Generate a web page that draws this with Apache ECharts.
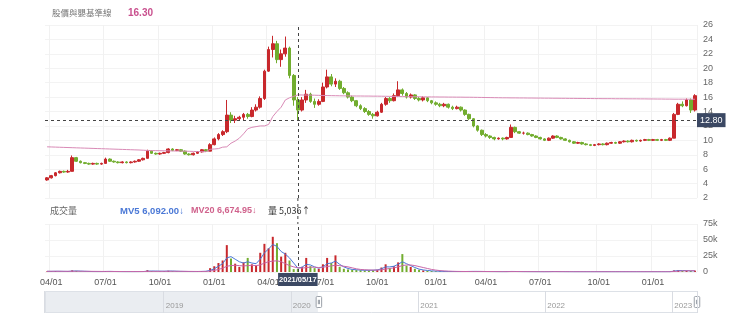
<!DOCTYPE html>
<html>
<head>
<meta charset="utf-8">
<script src="https://cdn.jsdelivr.net/npm/echarts@6/dist/echarts.min.js"></script>
<style>
  html, body { margin: 0; padding: 0; background: #fff; }
  #chart { width: 740px; height: 329px; }
</style>
</head>
<body>
<div id="chart"></div>
<script>
// Weekly sessions (Monday of each week)
const weeks = [
  '2020/03/23','2020/03/30','2020/04/06','2020/04/13','2020/04/20','2020/04/27','2020/05/04','2020/05/11','2020/05/18','2020/05/25',
  '2020/06/01','2020/06/08','2020/06/15','2020/06/22','2020/06/29','2020/07/06','2020/07/13','2020/07/20','2020/07/27','2020/08/03',
  '2020/08/10','2020/08/17','2020/08/24','2020/08/31','2020/09/07','2020/09/14','2020/09/21','2020/09/28','2020/10/05','2020/10/12',
  '2020/10/19','2020/10/26','2020/11/02','2020/11/09','2020/11/16','2020/11/23','2020/11/30','2020/12/07','2020/12/14','2020/12/21',
  '2020/12/28','2021/01/04','2021/01/11','2021/01/18','2021/01/25','2021/02/01','2021/02/08','2021/02/15','2021/02/22','2021/03/01',
  '2021/03/08','2021/03/15','2021/03/22','2021/03/29','2021/04/05','2021/04/12','2021/04/19','2021/04/26','2021/05/03','2021/05/10',
  '2021/05/17','2021/05/24','2021/05/31','2021/06/07','2021/06/14','2021/06/21','2021/06/28','2021/07/05','2021/07/12','2021/07/19',
  '2021/07/26','2021/08/02','2021/08/09','2021/08/16','2021/08/23','2021/08/30','2021/09/06','2021/09/13','2021/09/20','2021/09/27',
  '2021/10/04','2021/10/11','2021/10/18','2021/10/25','2021/11/01','2021/11/08','2021/11/15','2021/11/22','2021/11/29','2021/12/06',
  '2021/12/13','2021/12/20','2021/12/27','2022/01/03','2022/01/10','2022/01/17','2022/01/24','2022/01/31','2022/02/07','2022/02/14',
  '2022/02/21','2022/02/28','2022/03/07','2022/03/14','2022/03/21','2022/03/28','2022/04/04','2022/04/11','2022/04/18','2022/04/25',
  '2022/05/02','2022/05/09','2022/05/16','2022/05/23','2022/05/30','2022/06/06','2022/06/13','2022/06/20','2022/06/27','2022/07/04',
  '2022/07/11','2022/07/18','2022/07/25','2022/08/01','2022/08/08','2022/08/15','2022/08/22','2022/08/29','2022/09/05','2022/09/12',
  '2022/09/19','2022/09/26','2022/10/03','2022/10/10','2022/10/17','2022/10/24','2022/10/31','2022/11/07','2022/11/14','2022/11/21',
  '2022/11/28','2022/12/05','2022/12/12','2022/12/19','2022/12/26','2023/01/02','2023/01/09','2023/01/16','2023/01/23','2023/01/30',
  '2023/02/06','2023/02/13','2023/02/20','2023/02/27','2023/03/06','2023/03/13'
];

// [open, close, low, high]
const candles = [
  [4.5,4.8,4.4,4.9],[4.8,5.1,4.7,5.2],[5.1,5.5,5.0,5.6],[5.5,5.7,5.4,5.8],[5.7,5.6,5.5,5.8],[5.6,5.7,5.5,5.9],[5.7,7.6,5.7,7.9],[7.6,7.1,7.0,7.7],[7.1,6.9,6.8,7.2],[6.9,6.8,6.7,7.0],
  [6.8,6.7,6.6,6.9],[6.7,6.8,6.6,6.9],[6.8,6.7,6.6,6.9],[6.7,6.8,6.6,6.9],[6.8,7.4,6.8,7.6],[7.4,7.1,7.0,7.5],[7.1,7.0,6.9,7.2],[7.0,6.9,6.8,7.1],[6.9,7.0,6.8,7.1],[7.0,6.9,6.8,7.1],
  [6.9,7.0,6.8,7.1],[7.0,7.1,6.9,7.2],[7.1,7.3,7.0,7.4],[7.3,7.5,7.2,7.6],[7.5,8.5,7.5,8.7],[8.5,8.2,8.1,8.6],[8.2,8.1,8.0,8.3],[8.1,8.2,8.0,8.3],[8.2,8.3,8.1,8.4],[8.3,8.8,8.2,8.9],
  [8.8,8.6,8.5,8.9],[8.6,8.7,8.5,8.8],[8.7,8.5,8.4,8.8],[8.5,8.1,8.0,8.6],[8.1,8.0,7.9,8.2],[8.0,8.2,7.9,8.3],[8.2,8.4,8.1,8.5],[8.4,8.7,8.3,8.8],[8.7,8.5,8.4,8.8],[8.5,9.4,8.5,9.6],
  [9.4,10.2,9.3,10.4],[10.2,10.8,10.0,11.0],[10.8,11.2,10.6,11.4],[11.2,13.5,11.0,15.6],[13.5,12.8,12.4,13.9],[12.8,13.0,12.4,13.4],[13.0,13.2,12.8,13.4],[13.2,13.6,12.8,13.8],[13.6,13.3,13.0,13.8],[13.3,14.2,13.2,14.6],
  [14.2,14.6,14.0,15.0],[14.6,15.8,14.4,16.1],[15.8,19.6,15.6,19.8],[19.6,22.6,19.5,23.0],[22.6,23.4,21.5,24.5],[23.4,21.2,20.7,23.8],[21.2,22.0,20.2,22.6],[22.0,22.8,21.6,24.4],[22.8,19.0,18.6,23.0],[19.0,15.6,14.8,19.2],
  [15.6,14.2,12.8,16.0],[14.2,15.6,14.0,16.0],[15.6,16.4,15.2,17.0],[16.4,15.4,15.2,16.6],[15.4,15.0,14.5,15.8],[15.0,15.4,14.8,15.7],[15.4,17.4,15.3,18.0],[17.4,18.8,17.2,19.8],[18.8,17.8,17.5,19.2],[17.8,18.2,17.4,18.6],
  [18.2,17.2,17.0,18.4],[17.2,16.6,16.4,17.4],[16.6,16.0,15.8,16.8],[16.0,15.5,15.3,16.2],[15.5,14.8,14.6,15.6],[14.8,14.4,14.2,15.0],[14.4,14.0,13.8,14.6],[14.0,13.6,13.4,14.2],[13.6,13.4,13.0,13.8],[13.4,13.9,13.3,14.1],
  [13.9,15.0,13.8,15.2],[15.0,15.8,14.8,16.0],[15.8,15.5,15.2,16.0],[15.5,16.2,15.4,16.5],[16.2,17.0,16.0,18.2],[17.0,16.5,16.2,17.2],[16.5,16.0,15.8,16.7],[16.0,16.3,15.8,16.5],[16.3,15.8,15.6,16.4],[15.8,15.6,15.4,16.0],
  [15.6,15.9,15.4,16.1],[15.9,15.5,15.3,16.0],[15.5,15.2,15.0,15.6],[15.2,15.0,14.8,15.4],[15.0,14.8,14.6,15.2],[14.8,15.0,14.6,15.2],[15.0,14.6,14.4,15.1],[14.6,14.4,14.2,14.8],[14.4,14.6,14.3,14.8],[14.6,14.2,14.0,14.7],
  [14.2,13.6,13.4,14.3],[13.6,13.0,12.8,13.7],[13.0,12.0,11.8,13.1],[12.0,11.4,11.2,12.1],[11.4,10.8,10.6,11.5],[10.8,10.6,10.4,11.0],[10.6,10.4,10.2,10.7],[10.4,10.2,10.0,10.5],[10.2,10.3,10.1,10.4],[10.3,10.2,10.0,10.4],
  [10.2,10.4,10.1,10.5],[10.4,11.8,10.4,12.2],[11.8,11.2,11.0,11.9],[11.2,11.0,10.9,11.3],[11.0,11.0,10.8,11.2],[11.0,10.8,10.7,11.1],[10.8,10.6,10.5,10.9],[10.6,10.4,10.3,10.7],[10.4,10.2,10.1,10.5],[10.2,10.0,9.9,10.3],
  [10.0,10.3,9.9,10.4],[10.3,10.6,10.2,10.7],[10.6,10.4,10.3,10.7],[10.4,10.2,10.1,10.5],[10.2,10.0,9.9,10.3],[10.0,9.8,9.7,10.1],[9.8,9.6,9.5,9.9],[9.6,9.7,9.5,9.8],[9.7,9.5,9.4,9.8],[9.5,9.4,9.3,9.6],
  [9.4,9.3,9.2,9.5],[9.3,9.4,9.2,9.5],[9.4,9.5,9.3,9.6],[9.5,9.4,9.3,9.6],[9.4,9.6,9.3,9.7],[9.6,9.7,9.5,9.8],[9.7,9.6,9.5,9.8],[9.6,9.8,9.5,9.9],[9.8,9.9,9.7,10.0],[9.9,9.8,9.7,10.0],
  [9.8,10.0,9.7,10.1],[10.0,9.9,9.8,10.1],[9.9,10.0,9.8,10.1],[10.0,10.1,9.9,10.2],[10.1,10.0,9.9,10.2],[10.0,10.1,9.9,10.2],[10.1,10.0,9.9,10.2],[10.0,10.1,9.9,10.2],[10.1,10.0,9.9,10.2],[10.0,10.3,9.9,10.4],
  [10.3,13.6,10.3,13.8],[13.6,15.0,13.5,15.2],[15.0,14.8,14.6,15.4],[14.8,15.6,14.7,15.8],[15.6,14.2,13.8,15.8],[14.2,16.2,14.0,16.4]
];

// 股價基準線
const baseLine = [
  9.10,9.08,9.06,9.04,9.02,9.00,8.98,8.96,8.94,8.92,
  8.90,8.88,8.86,8.84,8.82,8.80,8.78,8.76,8.74,8.72,
  8.70,8.68,8.66,8.63,8.60,8.58,8.57,8.56,8.55,8.54,
  8.53,8.52,8.51,8.50,8.48,8.46,8.44,8.43,8.42,8.76,
  8.80,8.85,9.05,9.10,9.60,9.90,10.30,10.90,11.60,11.80,
  11.90,12.00,12.00,12.20,13.30,14.00,14.60,15.60,15.90,16.10,
  16.30,16.29,16.28,16.27,16.26,16.24,16.22,16.21,16.20,16.19,
  16.18,16.17,16.16,16.16,16.15,16.15,16.14,16.14,16.13,16.13,
  16.12,16.11,16.10,16.09,16.08,16.07,16.06,16.06,16.05,16.04,
  16.03,16.03,16.02,16.02,16.01,16.01,16.00,16.00,15.99,15.99,
  15.98,15.98,15.97,15.96,15.95,15.94,15.93,15.92,15.91,15.90,
  15.90,15.89,15.89,15.88,15.88,15.87,15.87,15.86,15.86,15.85,
  15.85,15.84,15.84,15.83,15.83,15.82,15.82,15.81,15.81,15.80,
  15.80,15.79,15.79,15.78,15.78,15.78,15.77,15.77,15.77,15.76,
  15.76,15.76,15.75,15.75,15.74,15.74,15.73,15.73,15.72,15.72,
  15.71,15.71,15.71,15.70,15.70,15.70
];

// 成交量
const volume = [
  900,1100,1500,800,700,900,2600,1800,900,700,
  600,600,700,600,1400,900,600,500,500,600,
  500,600,700,900,2800,1500,800,900,1200,2000,
  1200,800,700,800,600,700,900,1500,1200,6000,
  9000,14000,18000,42000,21000,13000,8000,15000,22000,12000,
  10000,30000,44000,37000,55000,45000,24000,30000,18000,4500,
  5036,8000,22000,9000,6000,5000,12000,22000,14000,26000,
  8000,5000,4000,3500,3000,2800,2500,2600,3000,3500,
  7000,12000,6000,9000,15000,28000,10000,8000,5000,3500,
  2500,2000,1500,1200,1000,900,800,800,700,700,
  800,900,1000,900,800,700,600,600,500,500,
  600,1200,800,600,500,500,500,400,400,400,
  500,900,600,500,400,400,400,400,400,400,
  400,400,400,400,400,400,400,400,400,400,
  400,400,400,400,400,400,400,400,400,500,
  2500,3000,1800,2000,1500,2200
];

const mv5 = [
  1000,1000,1100,1100,1000,900,1400,1600,1400,1100,
  900,700,650,650,800,900,800,650,550,550,
  550,550,600,700,1300,1500,1400,1300,1200,1400,
  1500,1200,1000,900,750,700,750,900,1100,2500,
  5000,9000,13000,22000,24000,20000,16000,14000,16000,14000,
  13000,20000,30000,36000,43000,40000,32000,28000,22000,14000,
  6092,7500,12000,11000,8000,6000,8000,13000,14000,17000,
  12000,8000,5500,4000,3500,3000,2700,2600,2800,3200,
  5000,8000,8000,9000,12000,16000,13000,10000,7000,4500,
  3200,2400,1800,1400,1100,950,850,800,750,720,
  750,850,900,900,820,720,650,600,550,520,
  560,850,800,650,550,500,480,440,420,410,
  450,650,600,520,450,420,410,400,400,400,
  400,400,400,400,400,400,400,400,400,400,
  400,400,400,400,400,400,400,400,400,450,
  1400,2200,2300,2100,1800,1900
];

const mv20 = [
  1100,1100,1100,1100,1050,1050,1100,1150,1150,1100,
  1050,1000,950,900,900,900,850,800,750,700,
  700,700,700,750,850,950,1000,1000,1050,1100,
  1100,1100,1050,1000,950,900,850,850,900,1500,
  2500,4000,6000,9000,10000,10500,10000,9500,10000,10500,
  10000,11000,14000,16000,17000,17500,16000,13000,10000,8000,
  6674.95,6000,7000,7500,7500,7000,7500,8500,9500,10500,
  10000,9000,8000,6500,5000,4000,3500,3200,3000,3000,
  3500,4500,5500,6500,8000,10000,11000,11000,10000,8500,
  7000,5500,4000,3000,2200,1700,1300,1100,950,850,
  800,800,850,850,850,800,750,700,650,600,
  580,650,700,700,650,600,550,500,470,450,
  450,520,550,550,520,480,450,430,420,410,
  410,410,410,410,410,410,410,410,410,410,
  410,410,410,410,410,410,410,410,410,410,
  800,1300,1700,1900,1950,2000
];

// Quarter tick labels placed on the first session week of each quarter
const tickLabels = {
  '2020/03/30': '04/01', '2020/06/29': '07/01', '2020/09/28': '10/01', '2020/12/28': '01/01',
  '2021/03/29': '04/01', '2021/06/28': '07/01', '2021/09/27': '10/01', '2022/01/03': '01/01',
  '2022/03/28': '04/01', '2022/06/27': '07/01', '2022/10/03': '10/01', '2023/01/02': '01/01'
};

const priceTicks = { min: 2, max: 26, step: 2 };
const volumeTicks = { min: 0, max: 75000, step: 25000 };

// Overview slider: full history span and the visible window
const overviewSpan = ['2018-01-22', '2023-03-13'];
const visibleWindow = ['2020-03-16', '2023-03-13'];

// Cursor position
const cursorDate = '2021/05/17';
const cursorPrice = 12.8;
const arrows = { mv5: '↓', mv20: '↓', vol: '↑' };

const UP = '#c8282c';
const DOWN = '#72ad2f';
const FONT = '"Liberation Sans", Arial, sans-serif';
const CJK = '"Noto Sans CJK TC", "Noto Sans CJK SC", sans-serif';

const cursorIdx = weeks.indexOf(cursorDate);
const tickInterval = (i) => Object.prototype.hasOwnProperty.call(tickLabels, weeks[i]);
const fmtNum = (v, d) => Number(v).toLocaleString('en-US', { minimumFractionDigits: d, maximumFractionDigits: d });

const chart = echarts.init(document.getElementById('chart'), null, { renderer: 'canvas' });

const t0 = +new Date(overviewSpan[0]);
const t1 = +new Date(overviewSpan[1]);

const pointerLine = { color: '#444', width: 1, type: [3, 3] };
const pointerBg = '#3b4863';

const option = {
  animation: false,
  backgroundColor: '#fff',
  textStyle: { fontFamily: FONT },
  grid: [
    { left: 45, right: 43, top: 25, height: 173 },
    { left: 45, right: 43, top: 224, height: 48 },
    { left: 44, right: 43, top: 291, height: 22 },
    { left: 44, right: 43, top: 291, height: 22, show: false }
  ],
  xAxis: [
    {
      type: 'category', gridIndex: 0, data: weeks, boundaryGap: true,
      axisLine: { show: false }, axisTick: { show: false }, axisLabel: { show: false },
      splitLine: { show: true, interval: tickInterval, lineStyle: { color: '#f1f1f1', width: 1 } },
      axisPointer: {
        show: true, status: 'show', value: cursorIdx, type: 'line', triggerTooltip: false,
        lineStyle: pointerLine, label: { show: false }
      }
    },
    {
      type: 'category', gridIndex: 1, data: weeks, boundaryGap: true,
      axisLine: { show: false }, axisTick: { show: false },
      axisLabel: {
        interval: tickInterval, formatter: v => tickLabels[v] || '',
        fontSize: 9, color: '#555', margin: 6, fontFamily: FONT
      },
      splitLine: { show: true, interval: tickInterval, lineStyle: { color: '#f1f1f1', width: 1 } },
      axisPointer: {
        show: true, status: 'show', value: cursorIdx, type: 'line', triggerTooltip: false,
        lineStyle: pointerLine,
        label: {
          show: true, formatter: () => cursorDate, margin: 1,
          fontWeight: 'bold', fontSize: 7.5, fontFamily: FONT,
          backgroundColor: pointerBg, color: '#fff', padding: [3, 1, 2, 1], borderRadius: 0
        }
      }
    },
    {
      type: 'time', gridIndex: 2, min: t0, max: t1, z: 10,
      minInterval: 365 * 24 * 3600 * 1000,
      axisLine: { show: false }, axisTick: { show: false },
      splitLine: { show: true, lineStyle: { color: '#d9dce2', width: 1 } },
      axisLabel: {
        inside: true, formatter: '{yyyy}', align: 'left', fontSize: 8, color: '#999',
        margin: 3, padding: [0, 0, 0, 2], showMinLabel: false, showMaxLabel: false
      }
    },
    { type: 'time', gridIndex: 3, min: t0, max: t1, show: false }
  ],
  yAxis: [
    {
      type: 'value', gridIndex: 0, position: 'right',
      min: priceTicks.min, max: priceTicks.max, interval: priceTicks.step,
      axisLine: { show: false }, axisTick: { show: false },
      axisLabel: { fontSize: 9, color: '#666', margin: 6, fontFamily: FONT },
      splitLine: { show: true, lineStyle: { color: '#f3f3f3' } },
      axisPointer: {
        show: true, status: 'show', value: cursorPrice, type: 'line', triggerTooltip: false,
        lineStyle: pointerLine,
        label: {
          show: true, formatter: p => Number(p.value).toFixed(2), margin: 0,
          fontSize: 9, fontFamily: FONT, backgroundColor: pointerBg, color: '#fff',
          padding: [3, 3, 2, 3], borderRadius: 0
        }
      }
    },
    {
      type: 'value', gridIndex: 1, position: 'right',
      min: volumeTicks.min, max: volumeTicks.max, interval: volumeTicks.step,
      axisLine: { show: false }, axisTick: { show: false },
      axisLabel: { fontSize: 9, color: '#666', margin: 6, fontFamily: FONT, formatter: v => v === 0 ? '0' : (v / 1000) + 'k' },
      splitLine: { show: true, lineStyle: { color: '#f3f3f3' } }
    },
    { type: 'value', gridIndex: 2, show: false, min: 0, max: 1 },
    { type: 'value', gridIndex: 3, show: false, min: 0, max: 1 }
  ],
  dataZoom: [
    {
      type: 'slider', xAxisIndex: 3, filterMode: 'none',
      left: 44, right: 43, top: 291, height: 22,
      startValue: +new Date(visibleWindow[0]), endValue: +new Date(visibleWindow[1]),
      showDetail: false, showDataShadow: false, brushSelect: false, moveHandleSize: 0,
      zoomLock: true, realtime: false,
      backgroundColor: '#eaedf1', fillerColor: '#ffffff', borderColor: '#dde1e7',
      handleIcon: 'path://M2,0 H8 A2,2 0 0 1 10,2 V18 A2,2 0 0 1 8,20 H2 A2,2 0 0 1 0,18 V2 A2,2 0 0 1 2,0 Z M4,6 V14 M6,6 V14',
      handleSize: 11,
      handleStyle: { color: '#fff', borderColor: '#9aa0a8', borderWidth: 1 },
      emphasis: { handleStyle: { borderColor: '#9aa0a8' } }
    }
  ],
  series: [
    {
      type: 'candlestick', xAxisIndex: 0, yAxisIndex: 0, data: candles,
      barWidth: '78%',
      itemStyle: { color: UP, color0: DOWN, borderColor: UP, borderColor0: DOWN, borderWidth: 1 }
    },
    {
      type: 'line', xAxisIndex: 0, yAxisIndex: 0, data: baseLine,
      showSymbol: false, symbol: 'none', lineStyle: { color: '#d98ab6', width: 1 }, z: 3
    },
    {
      type: 'bar', xAxisIndex: 1, yAxisIndex: 1, barWidth: 2,
      data: volume.map((v, i) => ({
        value: v,
        itemStyle: { color: candles[i][1] >= candles[i][0] ? UP : DOWN }
      }))
    },
    {
      type: 'line', xAxisIndex: 1, yAxisIndex: 1, data: mv5,
      showSymbol: false, symbol: 'none', lineStyle: { color: '#4a78d6', width: 1 }
    },
    {
      type: 'line', xAxisIndex: 1, yAxisIndex: 1, data: mv20,
      showSymbol: false, symbol: 'none', lineStyle: { color: '#c867a8', width: 1 }
    },
    {
      type: 'line', xAxisIndex: 3, yAxisIndex: 3, data: [[t0, 0], [t1, 0]],
      showSymbol: false, symbol: 'none', silent: true, lineStyle: { opacity: 0 }
    },
    {
      type: 'line', xAxisIndex: 2, yAxisIndex: 2, data: [[t0, 0], [t1, 0]],
      showSymbol: false, symbol: 'none', silent: true, lineStyle: { opacity: 0 }
    }
  ],
  graphic: [
    { type: 'text', id: 'hdr', x: 52, y: 13, style: { text: '股價與嬰基準線', fill: '#777', font: '8.5px ' + CJK, verticalAlign: 'middle' } },
    { type: 'text', id: 'hdrVal', x: 128, y: 13, style: { text: baseLine[cursorIdx].toFixed(2), fill: '#c9508e', font: 'bold 10px ' + FONT, verticalAlign: 'middle' } },
    { type: 'text', id: 'volTitle', x: 50, y: 211, style: { text: '成交量', fill: '#666', font: '9px ' + CJK, verticalAlign: 'middle' } },
    { type: 'text', id: 'mv5Txt', x: 120, y: 211, style: { text: 'MV5 ' + fmtNum(mv5[cursorIdx], 2) + arrows.mv5, fill: '#4a78d6', font: 'bold 9.5px ' + FONT, verticalAlign: 'middle' } },
    { type: 'text', id: 'mv20Txt', x: 191, y: 211, style: { text: 'MV20 ' + fmtNum(mv20[cursorIdx], 2) + arrows.mv20, fill: '#d0628c', font: 'bold 9px ' + FONT, verticalAlign: 'middle' } },
    { type: 'text', id: 'volTxt', x: 268, y: 211, style: { text: '量 ' + fmtNum(volume[cursorIdx], 0) + arrows.vol, fill: '#333', font: '9px ' + CJK, verticalAlign: 'middle' } }
  ]
};

chart.setOption(option);

// Continue the cursor line through the gap between the two panels
const cx = chart.convertToPixel({ xAxisIndex: 0 }, cursorIdx);
const yA = chart.convertToPixel({ yAxisIndex: 0 }, priceTicks.min);
const yB = chart.convertToPixel({ yAxisIndex: 1 }, volumeTicks.max);
chart.setOption({
  graphic: [
    { type: 'line', id: 'cursorGap', shape: { x1: cx, y1: yA, x2: cx, y2: yB }, style: { stroke: '#444', lineWidth: 1, lineDash: [3, 3] }, z: 50 }
  ]
});
</script>
</body>
</html>
